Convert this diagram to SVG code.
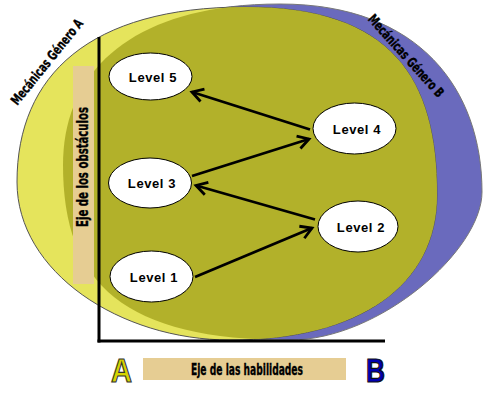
<svg xmlns="http://www.w3.org/2000/svg" width="500" height="405" viewBox="0 0 500 405">
<style>
.node ellipse{fill:#fff;stroke:#000;stroke-width:1}
.node text{font-family:"Liberation Sans",Arial,sans-serif;font-weight:bold;font-size:13px;letter-spacing:0.6px;text-anchor:middle;fill:#000}
.cond{font-family:"Liberation Sans Narrow","DejaVu Sans Condensed","Liberation Sans",sans-serif;font-weight:bold;fill:#000;stroke:#000;stroke-width:0.35}
.edge{stroke:#000;stroke-width:2.8;fill:none;marker-end:url(#arr)}
.big{font-family:"Liberation Sans",Arial,sans-serif;font-weight:bold;font-size:34px;stroke-width:1.2}
</style>
<defs>
<clipPath id="clipY"><path d="M17,182 C17,75 90,7 245,7 C392,7 437,78 437,195 C437,285 360,340 230,340 C120,340 17,272 17,182 Z"/></clipPath>
<marker id="arr" markerUnits="userSpaceOnUse" viewBox="-14 -10 18 20" markerWidth="18" markerHeight="20" refX="0" refY="0" orient="auto">
<path d="M-11,-6.5 L0,0 L-11,6.5" fill="none" stroke="#000" stroke-width="2.8" stroke-linejoin="miter"/>
</marker>
</defs>
<rect width="500" height="405" fill="#fff"/>
<g id="background">
<path d="M63,165 C63,65 140,4 280,4 C420,4 482,90 482,192 C482,250 380,340 290,340 C125,340 63,285 63,165 Z" fill="#6A6ABD" stroke="#777" stroke-width="1"/>
<path d="M17,182 C17,75 90,7 245,7 C392,7 437,78 437,195 C437,285 360,340 230,340 C120,340 17,272 17,182 Z" fill="#E5E45C" stroke="#555" stroke-width="1"/>
<path d="M63,165 C63,65 140,4 280,4 C420,4 482,90 482,192 C482,250 380,340 290,340 C125,340 63,285 63,165 Z" fill="#B2B12A" clip-path="url(#clipY)"/>
<text class="cond" font-size="13.5" transform="translate(47,62) rotate(-51)" y="4.5" text-anchor="middle" textLength="106" lengthAdjust="spacingAndGlyphs">Mecánicas Género A</text>
<text class="cond" font-size="13.5" transform="translate(406,56) rotate(48)" y="4.5" text-anchor="middle" textLength="106" lengthAdjust="spacingAndGlyphs">Mecánicas Género B</text>
</g>
<g id="axes">
<rect x="73" y="66" width="21" height="218" fill="#E6CD93"/>
<text class="cond" font-size="15" transform="translate(88,167) rotate(-90)" text-anchor="middle" textLength="120" lengthAdjust="spacingAndGlyphs">Eje de los obstáculos</text>
<line x1="99" y1="37" x2="99" y2="342.5" stroke="#000" stroke-width="3"/>
<line x1="97.5" y1="341" x2="385" y2="341" stroke="#000" stroke-width="3"/>
<rect x="143" y="358" width="203" height="22" fill="#E6CD93"/>
<text class="cond" font-size="16" x="247" y="374.5" text-anchor="middle" textLength="112" lengthAdjust="spacingAndGlyphs">Eje de las habilidades</text>
<text class="big" x="111" y="381.5" fill="#D6D400" stroke="#333" textLength="21" lengthAdjust="spacingAndGlyphs">A</text>
<text class="big" x="366" y="381.5" fill="#0000B0" stroke="#111" textLength="19" lengthAdjust="spacingAndGlyphs">B</text>
</g>
<g id="connectors">
<line class="edge" x1="310" y1="129.5" x2="192" y2="92"/>
<line class="edge" x1="192" y1="176" x2="309" y2="139"/>
<line class="edge" x1="315" y1="219.5" x2="196" y2="185.5"/>
<line class="edge" x1="195" y1="277" x2="312" y2="228"/>
</g>
<g id="level5" class="node"><ellipse cx="150.5" cy="76.5" rx="41.5" ry="23.5"/><text x="153" y="82">Level 5</text></g>
<g id="level3" class="node"><ellipse cx="150" cy="183" rx="41.5" ry="25"/><text x="152" y="188">Level 3</text></g>
<g id="level1" class="node"><ellipse cx="151.5" cy="276.5" rx="41.5" ry="25.5"/><text x="154" y="281.5">Level 1</text></g>
<g id="level4" class="node"><ellipse cx="354.5" cy="128.5" rx="41.5" ry="25.5"/><text x="357" y="133.5">Level 4</text></g>
<g id="level2" class="node"><ellipse cx="358" cy="226.5" rx="40" ry="25.5"/><text x="361" y="231.5">Level 2</text></g>
</svg>
